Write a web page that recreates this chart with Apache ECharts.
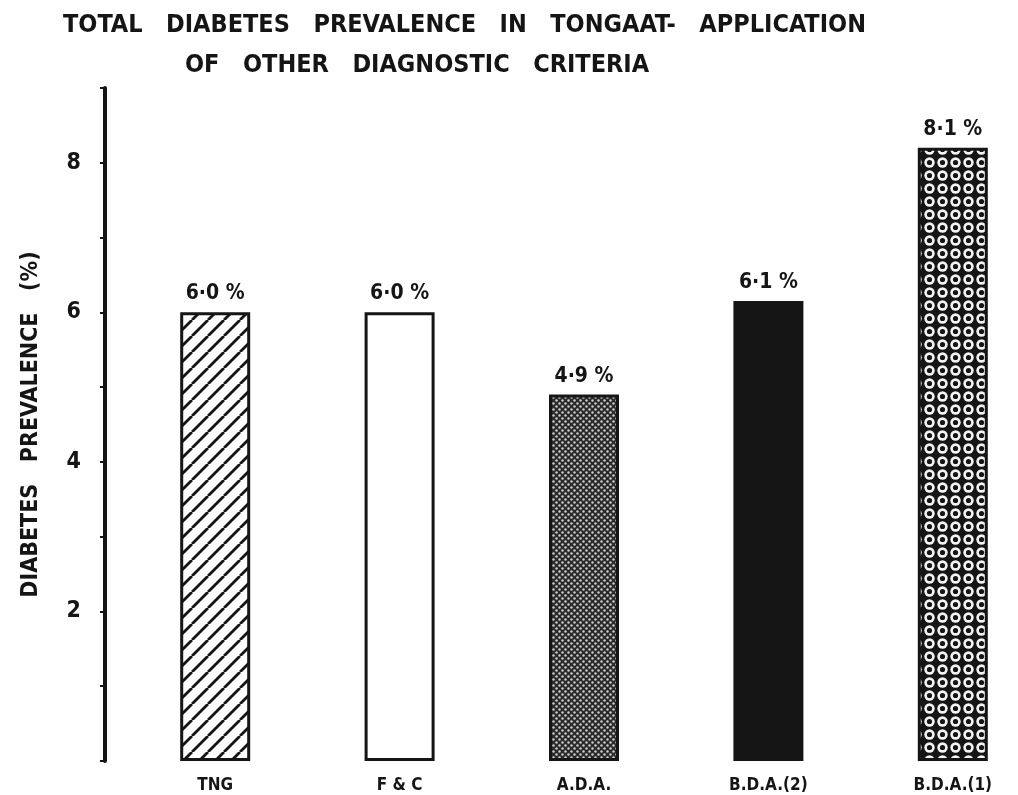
<!DOCTYPE html>
<html>
<head>
<meta charset="utf-8">
<script src="https://cdn.jsdelivr.net/npm/echarts@6/dist/echarts.min.js"></script>
<style>
  html, body { margin: 0; padding: 0; background: #fff; }
  #chart { width: 1018px; height: 795px; }
</style>
</head>
<body>
<div id="chart"></div>
<script>
// data
const categories = ["TNG", "F & C", "A.D.A.", "B.D.A.(2)", "B.D.A.(1)"];
const prevalence = [6.0, 6.0, 4.9, 6.15, 8.2];
const valueLabels = ["6·0 %", "6·0 %", "4·9 %", "6·1 %", "8·1 %"];
const yTickLabels = ["2", "4", "6", "8"];

const INK = "#151515";
const FONT = "'Liberation Sans Narrow', 'DejaVu Sans Condensed', 'DejaVu Sans', sans-serif";

// fill patterns, drawn on small canvases
const makePattern = (w, h, draw) => {
  const c = document.createElement("canvas");
  c.width = w;
  c.height = h;
  draw(c.getContext("2d"), w, h);
  return { image: c, repeat: "repeat" };
};

const hatch = makePattern(16, 16, (ctx, w, h) => {
  ctx.fillStyle = "#fff";
  ctx.fillRect(0, 0, w, h);
  ctx.strokeStyle = INK;
  ctx.lineWidth = 2.8;
  for (let k = -1; k <= 1; k++) {
    ctx.beginPath();
    ctx.moveTo(k * w, h);
    ctx.lineTo(k * w + w, 0);
    ctx.stroke();
  }
});

const halftone = makePattern(6, 6, (ctx, w, h) => {
  ctx.fillStyle = "#2a2a2a";
  ctx.fillRect(0, 0, w, h);
  ctx.fillStyle = "#cfcfcf";
  [[1.5, 1.5], [4.5, 4.5]].forEach(([x, y]) => {
    ctx.beginPath();
    ctx.arc(x, y, 1.2, 0, Math.PI * 2);
    ctx.fill();
  });
});

const rings = makePattern(13, 13, (ctx, w, h) => {
  ctx.fillStyle = INK;
  ctx.fillRect(0, 0, w, h);
  ctx.fillStyle = "#f4f4f4";
  ctx.beginPath();
  ctx.arc(6.5, 6.5, 5.2, 0, Math.PI * 2);
  ctx.fill();
  ctx.fillStyle = INK;
  ctx.beginPath();
  ctx.arc(6.5, 6.5, 2.6, 0, Math.PI * 2);
  ctx.fill();
});

const fills = [hatch, "#ffffff", halftone, INK, rings];

const chart = echarts.init(document.getElementById("chart"));

const titleStyle = { fontFamily: FONT, fontSize: 25, fontWeight: "bold", color: INK };

const option = {
  backgroundColor: "#ffffff",
  animation: false,
  title: [
    {
      text: "TOTAL   DIABETES   PREVALENCE   IN   TONGAAT-   APPLICATION",
      left: 58,
      top: 8,
      textStyle: titleStyle,
    },
    {
      text: "OF   OTHER   DIAGNOSTIC   CRITERIA",
      left: 180,
      top: 48,
      textStyle: titleStyle,
    },
  ],
  grid: {
    left: 123,
    width: 922,
    top: 88,
    bottom: 34,
    outerBoundsMode: "none",
  },
  xAxis: {
    type: "category",
    data: categories,
    axisLine: { show: false },
    axisTick: { show: false },
    axisLabel: {
      margin: 16,
      fontFamily: FONT,
      fontSize: 17,
      fontWeight: "bold",
      color: INK,
    },
  },
  yAxis: {
    type: "value",
    min: 0,
    max: 9,
    interval: 1,
    offset: 18,
    name: "DIABETES   PREVALENCE   (%)",
    nameLocation: "middle",
    nameGap: 62,
    nameTextStyle: { fontFamily: FONT, fontSize: 23, fontWeight: "bold", color: INK },
    splitLine: { show: false },
    axisLine: { show: true, lineStyle: { color: INK, width: 4 } },
    axisTick: { show: true, inside: false, length: 5, lineStyle: { color: INK, width: 2 } },
    axisLabel: {
      margin: 24,
      fontFamily: FONT,
      fontSize: 23,
      fontWeight: "bold",
      color: INK,
      formatter: (v) => (yTickLabels.includes(String(v)) ? String(v) : ""),
    },
  },
  series: [
    {
      type: "bar",
      barWidth: 70,
      data: prevalence.map((v, i) => ({
        value: v,
        itemStyle: { color: fills[i] },
      })),
      itemStyle: { borderColor: INK, borderWidth: 3 },
      label: {
        show: true,
        position: "top",
        distance: 8,
        formatter: (p) => valueLabels[p.dataIndex],
        fontFamily: FONT,
        fontSize: 21,
        fontWeight: "bold",
        color: INK,
      },
    },
  ],
};

chart.setOption(option);
</script>
</body>
</html>
